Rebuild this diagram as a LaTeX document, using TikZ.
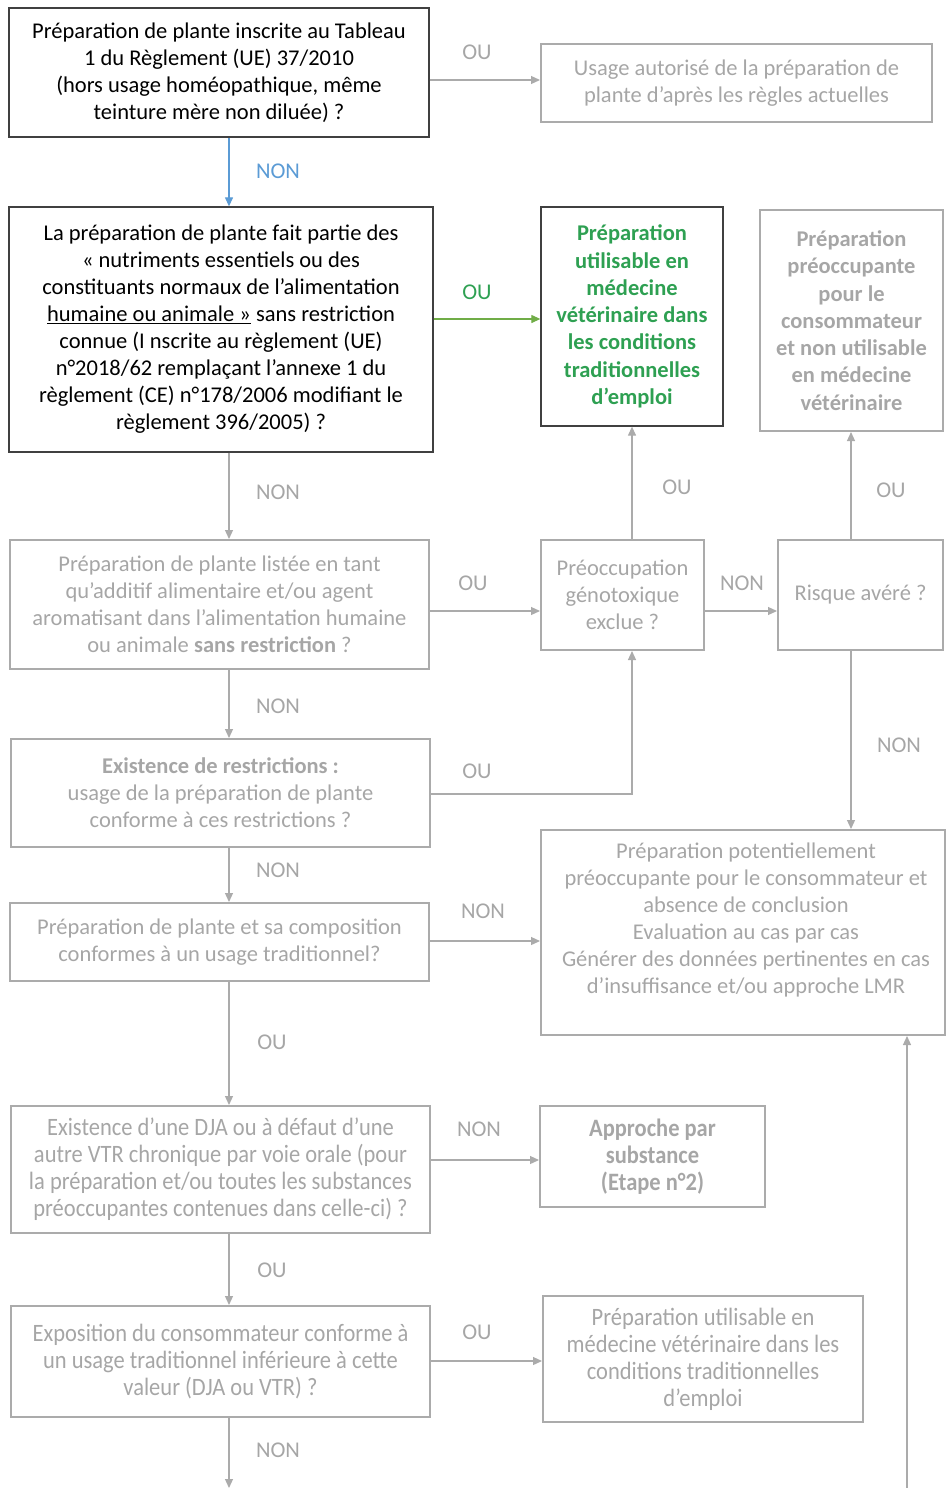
\documentclass[tikz,border=0pt]{standalone}
\usepackage{fontspec}
\setmainfont{Carlito}
\newfontfamily\condfont[FakeStretch=0.9]{Carlito}
\usetikzlibrary{arrows.meta,calc}
\definecolor{gtxt}{HTML}{A6A6A6}
\definecolor{gline}{HTML}{ABABAB}
\definecolor{kline}{HTML}{404040}
\definecolor{vgreen}{HTML}{2EA052}
\definecolor{agreen}{HTML}{70AD47}
\definecolor{ablue}{HTML}{5B9BD5}
\begin{document}
\begin{tikzpicture}[x=1pt,y=-1pt,
  font=\fontsize{22.5}{27}\selectfont,
  kbox/.style={draw=kline, line width=1.3pt, align=center, inner sep=0pt, text=black},
  gbox/.style={draw=gline, line width=2pt, align=center, inner sep=0pt, text=gtxt},
  condtxt/.style={font=\condfont\fontsize{25}{27}\selectfont},
  tip/.style={-{Triangle[length=9pt,width=8pt]}},
  garrow/.style={draw=gline, line width=1.2pt, tip},
  lab/.style={text=gtxt, inner sep=0pt}
]
\useasboundingbox (0,0) rectangle (945,1488);

% Boxes
\node[kbox, minimum width=420pt, minimum height=129pt] (A) at (219,72.5)
  {Préparation de plante inscrite au Tableau\\1 du Règlement (UE) 37/2010\\(hors usage homéopathique, même\\teinture mère non diluée) ?};
\node[gbox, minimum width=391pt, minimum height=78pt] (B) at (736.5,83)
  {Usage autorisé de la préparation de\\plante d’après les règles actuelles};
\node[kbox, minimum width=424pt, minimum height=245pt] (C) at (221,329.5)
  {La préparation de plante fait partie des\\« nutriments essentiels ou des\\constituants normaux de l’alimentation\\\underline{humaine ou animale »} sans restriction\\connue (I nscrite au règlement (UE)\\n°2018/62 remplaçant l’annexe 1 du\\règlement (CE) n°178/2006 modifiant le\\règlement 396/2005) ?};
\node[kbox, text=vgreen, font=\bfseries\fontsize{22.5}{27.3}\selectfont, minimum width=182pt, minimum height=219pt] (D) at (632,316.5)
  {Préparation\\utilisable en\\médecine\\vétérinaire dans\\les conditions\\traditionnelles\\d’emploi};
\node[gbox, font=\bfseries\fontsize{22.5}{27.3}\selectfont, minimum width=183pt, minimum height=221pt] (E) at (851.5,320.5)
  {Préparation\\préoccupante\\pour le\\consommateur\\et non utilisable\\en médecine\\vétérinaire};
\node[gbox, minimum width=419pt, minimum height=129pt] (F) at (219.5,604.5)
  {Préparation de plante listée en tant\\qu’additif alimentaire et/ou agent\\aromatisant dans l’alimentation humaine\\ou animale \textbf{sans restriction} ?};
\node[gbox, minimum width=163pt, minimum height=110pt] (G) at (622.5,595)
  {Préoccupation\\génotoxique\\exclue ?};
\node[gbox, minimum width=165pt, minimum height=110pt] (H) at (860.5,595)
  {Risque avéré ?};
\node[gbox, minimum width=419pt, minimum height=108pt] (I) at (220.5,793)
  {\textbf{Existence de restrictions :}\\usage de la préparation de plante\\conforme à ces restrictions ?};
\node[gbox, minimum width=419pt, minimum height=78pt] (J) at (219.5,942)
  {Préparation de plante et sa composition\\conformes à un usage traditionnel?};
\node[gbox, minimum width=404pt, minimum height=205pt] (K) at (743,932.5) {};
\node[lab, align=center] (Kt) at (746,920)
  {Préparation potentiellement\\préoccupante pour le consommateur et\\absence de conclusion\\Evaluation au cas par cas\\Générer des données pertinentes en cas\\d’insuffisance et/ou approche LMR};
\node[gbox, condtxt, minimum width=419pt, minimum height=127pt] (L) at (220.5,1169.5)
  {Existence d’une DJA ou à défaut d’une\\autre VTR chronique par voie orale (pour\\la préparation et/ou toutes les substances\\préoccupantes contenues dans celle-ci) ?};
\node[gbox, font=\bfseries\condfont\fontsize{25}{27}\selectfont, minimum width=225pt, minimum height=101pt] (M) at (652.5,1156.5)
  {Approche par\\substance\\(Etape n°2)};
\node[gbox, condtxt, minimum width=419pt, minimum height=111pt] (N) at (220.5,1361.5)
  {Exposition du consommateur conforme à\\un usage traditionnel inférieure à cette\\valeur (DJA ou VTR) ?};
\node[gbox, condtxt, minimum width=320pt, minimum height=126pt] (O) at (703,1359)
  {Préparation utilisable en\\médecine vétérinaire dans les\\conditions traditionnelles\\d’emploi};

\coordinate (bot1) at (229,1488);
\coordinate (bot2) at (907,1488);

% Connectors
\draw[draw=ablue, line width=1.2pt, tip] (A.south -| 229,0) -- (C.north -| 229,0);
\draw[garrow] (A.east |- 0,80) -- (B.west |- 0,80);
\draw[draw=agreen, line width=1.2pt, tip] (C.east |- 0,319) -- (D.west |- 0,319);
\draw[garrow] (C.south -| 229,0) -- (F.north -| 229,0);
\draw[garrow] (F.east |- 0,611) -- (G.west |- 0,611);
\draw[garrow] (G.east |- 0,611) -- (H.west |- 0,611);
\draw[garrow] (G.north -| 632,0) -- (D.south -| 632,0);
\draw[garrow] (H.north -| 851,0) -- (E.south -| 851,0);
\draw[garrow] (F.south -| 229,0) -- (I.north -| 229,0);
\draw[garrow] (I.east |- 0,794) -| (G.south -| 632,0);
\draw[garrow] (H.south -| 851,0) -- (K.north -| 851,0);
\draw[garrow] (I.south -| 229,0) -- (J.north -| 229,0);
\draw[garrow] (J.east |- 0,941) -- (K.west |- 0,941);
\draw[garrow] (J.south -| 229,0) -- (L.north -| 229,0);
\draw[garrow] (L.east |- 0,1160) -- (M.west |- 0,1160);
\draw[garrow] (L.south -| 229,0) -- (N.north -| 229,0);
\draw[garrow] (N.east |- 0,1361) -- (O.west |- 0,1361);
\draw[garrow] (N.south -| 229,0) -- (bot1);
\draw[garrow] (bot2) -- (K.south -| 907,0);

% Labels
\node[lab] (l1) at (477,52) {OU};
\node[lab, text=ablue] (l2) at (278,171) {NON};
\node[lab, text=vgreen] (l3) at (477,292) {OU};
\node[lab] (l4) at (278,492) {NON};
\node[lab] (l5) at (473,583) {OU};
\node[lab] (l6) at (742,583) {NON};
\node[lab] (l7) at (677,487) {OU};
\node[lab] (l8) at (891,490) {OU};
\node[lab] (l9) at (278,706) {NON};
\node[lab] (l10) at (477,771) {OU};
\node[lab] (l11) at (899,745) {NON};
\node[lab] (l12) at (278,870) {NON};
\node[lab] (l13) at (483,911) {NON};
\node[lab] (l14) at (272,1042) {OU};
\node[lab] (l15) at (479,1129) {NON};
\node[lab] (l16) at (272,1270) {OU};
\node[lab] (l17) at (477,1332) {OU};
\node[lab] (l18) at (278,1450) {NON};
\end{tikzpicture}
\end{document}
